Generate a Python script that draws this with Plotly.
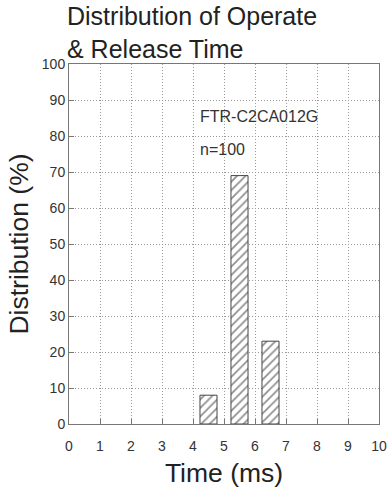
import plotly.graph_objects as go

time_ms = [4.5, 5.5, 6.5]
distribution = [8, 69, 23]
x_ticks = list(range(0, 11))
y_ticks = list(range(0, 101, 10))

FONT = "Liberation Sans, Arial, sans-serif"

fig = go.Figure()
fig.add_trace(go.Bar(
    x=time_ms, y=distribution, width=0.55,
    marker=dict(color="white",
                line=dict(color="#444", width=1),
                pattern=dict(shape="/", fgcolor="#222", bgcolor="white", size=6, solidity=0.3)),
    showlegend=False,
))

axis_common = dict(
    showline=True, mirror=True, linecolor="#777", linewidth=1,
    ticks="inside", ticklen=5, tickcolor="#777",
    showgrid=True, gridcolor="#999", griddash="1px,2px", gridwidth=1,
    zeroline=False, tickfont=dict(family=FONT, size=14, color="#333"),
    automargin=False,
)

fig.update_layout(
    width=387, height=488,
    margin=dict(l=69, r=8, t=64, b=64),
    paper_bgcolor="white", plot_bgcolor="white",
    xaxis=dict(range=[0, 10], tickvals=x_ticks, ticklabelstandoff=9,
               title=dict(text="Time (ms)", font=dict(family=FONT, size=26.5, color="#222"), standoff=16),
               **axis_common),
    yaxis=dict(range=[0, 100], tickvals=y_ticks,
               title=dict(text="Distribution (%)", font=dict(family=FONT, size=26.5, color="#222"), standoff=5),
               **axis_common),
    annotations=[
        dict(text="Distribution of Operate<br>& Release Time", x=-0.012, y=1.178,
             xref="paper", yref="paper", xanchor="left", yanchor="top", align="left",
             showarrow=False, font=dict(family=FONT, size=25, color="#222")),
        dict(text="FTR-C2CA012G", x=4.15, y=85.3, xref="x", yref="y", xanchor="left", yanchor="middle",
             showarrow=False, font=dict(family=FONT, size=16, color="#333")),
        dict(text="n=100", x=4.15, y=76.2, xref="x", yref="y", xanchor="left", yanchor="middle",
             showarrow=False, font=dict(family=FONT, size=16, color="#333")),
    ],
)

fig.write_html("out.html", config={"displayModeBar": False},
               post_script="document.body.style.margin='0';document.body.style.overflow='hidden';")
